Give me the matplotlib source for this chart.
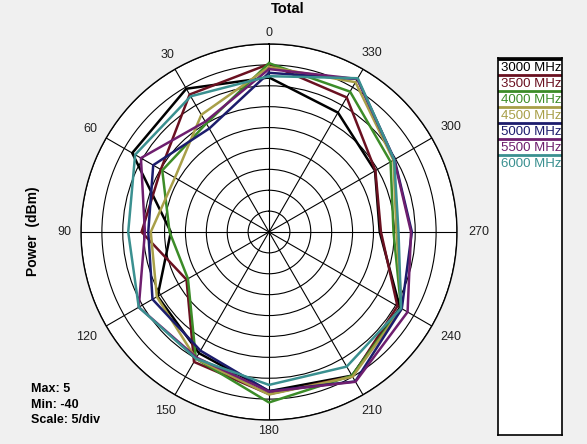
import numpy as np
import matplotlib.pyplot as plt
from matplotlib.lines import Line2D

plt.rcParams['font.family'] = ['Liberation Sans', 'DejaVu Sans']

# angles in degrees, 0 at top, counter-clockwise
angles = [0, 30, 60, 90, 120, 150, 180, 210, 240, 270, 300, 330]

labels = ["3000 MHz", "3500 MHz", "4000 MHz", "4500 MHz",
          "5000 MHz", "5500 MHz", "6000 MHz"]
colors = ["#000000", "#6a1020", "#3c8c28", "#a89f48",
          "#1c1c6c", "#6e1e6e", "#3a9090"]

p3000 = [-3.0, -0.4, -2.2, -16.5, -9.2, -6.5, -1.9, -0.3, -3.8, -13.5, -10.7, -7.0]
p3500 = [0.2, -2.0, -10.1, -9.5, -17.2, -4.1, -1.2, -0.1, -4.5, -13.2, -10.6, -2.8]
p4000 = [0.4, -10.0, -10.5, -16.2, -17.6, -5.0, 0.8, -0.3, -3.5, -10.2, -6.4, -1.2]
p4500 = [-0.5, -7.6, -14.0, -11.7, -9.0, -5.0, -1.1, 0.0, -3.3, -9.5, -5.6, 1.4]
p5000 = [-1.9, -11.4, -8.0, -11.1, -7.8, -7.2, -1.9, 1.3, -3.3, -5.8, -5.3, 2.3]
p5500 = [-1.0, -9.5, -4.6, -10.3, -4.0, -5.3, -1.8, 1.4, -1.7, -6.0, -5.4, 2.3]
p6000 = [-2.7, -2.5, -3.0, -6.3, -4.0, -5.0, -3.4, -2.8, -3.5, -9.0, -5.4, 2.5]
series = [p3000, p3500, p4000, p4500, p5000, p5500, p6000]

r_min, r_max, r_step = -40, 5, 5

W, H = 587, 444
fig = plt.figure(figsize=(W / 100, H / 100), dpi=100)
fig.patch.set_facecolor("#f0f0f0")

# polar area: center (269, 232), radius 188 px
cx, cy, R = 269, 232, 188
ax = fig.add_axes([(cx - R) / W, (H - cy - R) / H, 2 * R / W, 2 * R / H],
                  projection="polar")
ax.set_facecolor("white")
ax.set_theta_zero_location("N")
ax.set_theta_direction(1)
ax.set_ylim(r_min, r_max)
ax.set_yticks(np.arange(r_min + r_step, r_max + 1, r_step))
ax.set_yticklabels([])
ax.set_thetagrids(angles, [""] * len(angles))
ax.grid(True, color="black", linewidth=0.8, linestyle="-")
ax.spines["polar"].set_color("black")
ax.spines["polar"].set_linewidth(1.0)

# angle labels just outside the outer ring
for a in angles:
    t = np.deg2rad(a)
    lab = str(a)
    r_px = 195 + abs(np.sin(t)) * len(lab) * 5 + abs(np.cos(t)) * 4.5
    r_lab = r_min + r_px / R * (r_max - r_min)
    ax.text(t, r_lab, lab, ha="center", va="center", fontsize=9,
            color="#202020", clip_on=False)

th = np.deg2rad(angles + [angles[0]])
for vals, c in zip(series, colors):
    ax.plot(th, vals + [vals[0]], color=c, linewidth=1.8)

fig.text(288 / W, 1 - 9 / H, "Total", ha="center", va="center",
         fontsize=10.5, fontweight="bold")
fig.text(33.5 / W, 1 - 231 / H, "Power  (dBm)", rotation=90, ha="center",
         va="center", fontsize=10, fontweight="bold")

info = ["Max: 5", "Min: -40", "Scale: 5/div"]
for i, t in enumerate(info):
    fig.text(31 / W, 1 - (389 + 15.5 * i) / H, t, ha="left", va="center",
             fontsize=9, fontweight="bold")

# legend box
lx0, lx1, ly0, ly1 = 498, 562, 58, 435
lax = fig.add_axes([lx0 / W, (H - ly1) / H, (lx1 - lx0) / W, (ly1 - ly0) / H])
lax.set_xlim(lx0, lx1)
lax.set_ylim(ly1, ly0)
lax.set_xticks([])
lax.set_yticks([])
lax.set_facecolor("white")
for s in lax.spines.values():
    s.set_color("black")
    s.set_linewidth(1.2)
for i, (lab, c) in enumerate(zip(labels, colors)):
    y_line = 58.8 + 16 * i
    lax.add_line(Line2D([lx0 + 1, lx1 - 1], [y_line, y_line], color=c,
                        linewidth=2.0))
    lax.text(lx0 + 3, y_line + 9, lab, color=c, ha="left", va="center",
             fontsize=9.5)

fig.savefig("out.png", dpi=100, facecolor=fig.get_facecolor())
